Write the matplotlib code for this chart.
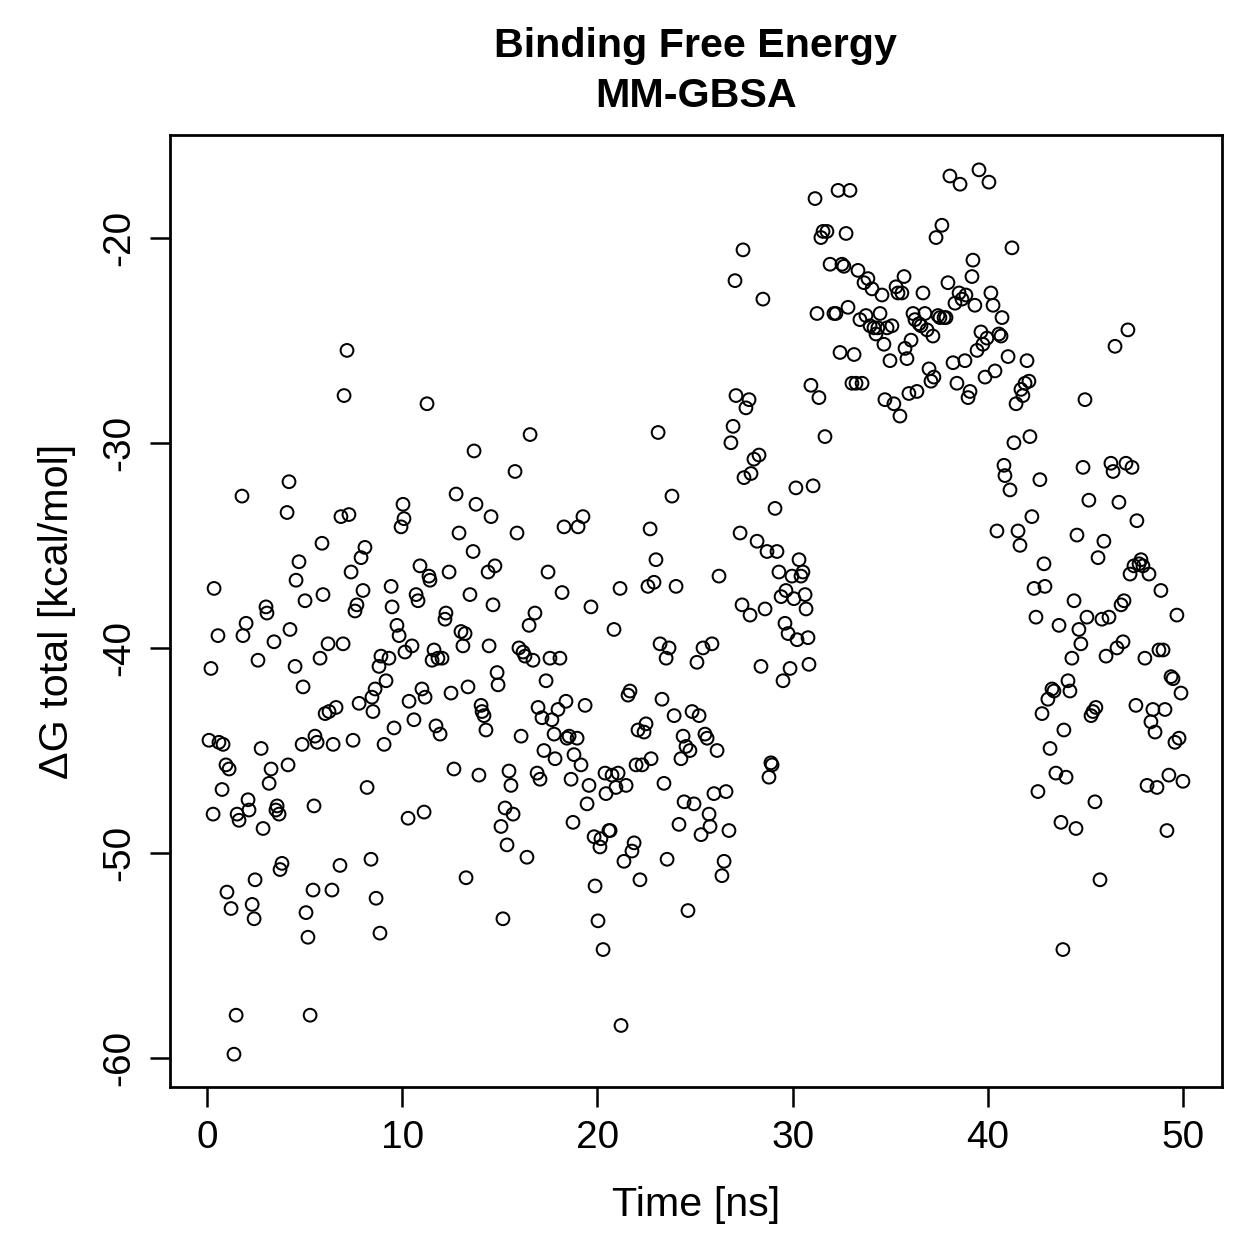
import matplotlib
matplotlib.use("Agg")
import matplotlib.pyplot as plt
from matplotlib import font_manager
import numpy as np

# MM-GBSA binding free energy per frame
time_ns = [
    0.10, 0.20, 0.36, 0.56, 0.31, 0.61, 0.82, 0.77, 0.97, 1.13, 1.02, 1.23, 1.49, 1.38, 1.54, 1.64,
    1.79, 1.84, 2.00, 2.10, 2.15, 2.31, 2.41, 2.46, 2.61, 2.77, 2.87, 3.02, 3.07, 3.18, 3.28, 3.43,
    3.53, 3.59, 3.69, 3.74, 3.84, 4.10, 4.15, 4.20, 4.25, 4.51, 4.56, 4.71, 4.87, 4.92, 5.02, 5.07,
    5.17, 5.28, 5.43, 5.48, 5.53, 5.64, 5.79, 5.89, 5.94, 6.05, 6.20, 6.25, 6.40, 6.46, 6.61, 6.81,
    6.86, 6.97, 7.02, 7.17, 7.27, 7.38, 7.48, 7.58, 7.68, 7.79, 7.89, 7.99, 8.09, 8.20, 8.40, 8.45,
    8.50, 8.61, 8.66, 8.81, 8.86, 8.91, 9.07, 9.17, 9.32, 9.43, 9.48, 9.58, 9.73, 9.84, 9.94, 10.04,
    10.09, 10.14, 10.30, 10.35, 10.50, 10.60, 10.71, 10.81, 10.91, 11.01, 11.12, 11.17, 11.27, 11.37,
    11.42, 11.53, 11.63, 11.73, 11.83, 11.94, 12.04, 12.19, 12.24, 12.40, 12.50, 12.65, 12.76, 12.91,
    13.01, 13.11, 13.22, 13.27, 13.37, 13.47, 13.63, 13.68, 13.78, 13.93, 14.04, 14.09, 14.19, 14.29,
    14.40, 14.45, 14.55, 14.65, 14.75, 14.86, 14.91, 15.06, 15.16, 15.27, 15.37, 15.47, 15.57, 15.68,
    15.78, 15.88, 15.98, 16.09, 16.19, 16.29, 16.39, 16.50, 16.55, 16.70, 16.80, 16.91, 16.96, 17.06,
    17.16, 17.26, 17.37, 17.47, 17.57, 17.67, 17.78, 17.83, 17.98, 18.08, 18.19, 18.29, 18.39, 18.44,
    18.55, 18.65, 18.75, 18.80, 18.96, 19.01, 19.16, 19.26, 19.37, 19.47, 19.57, 19.67, 19.83, 19.88,
    20.03, 20.13, 20.18, 20.29, 20.39, 20.44, 20.59, 20.65, 20.75, 20.85, 20.95, 21.06, 21.16, 21.21,
    21.36, 21.47, 21.57, 21.67, 21.77, 21.88, 21.98, 22.08, 22.18, 22.29, 22.39, 22.49, 22.59, 22.70,
    22.75, 22.90, 23.00, 23.11, 23.21, 23.31, 23.41, 23.52, 23.57, 23.67, 23.82, 23.93, 24.03, 24.18,
    24.28, 24.39, 24.44, 24.54, 24.64, 24.74, 24.85, 24.95, 25.10, 25.21, 25.31, 25.41, 25.51, 25.62,
    25.72, 25.77, 25.87, 25.97, 26.13, 26.23, 26.38, 26.49, 26.59, 26.74, 26.84, 26.95, 27.05, 27.10,
    27.31, 27.41, 27.46, 27.51, 27.61, 27.77, 27.82, 27.87, 28.02, 28.18, 28.28, 28.38, 28.48, 28.59,
    28.69, 28.79, 28.89, 28.95, 29.10, 29.20, 29.30, 29.41, 29.51, 29.61, 29.66, 29.77, 29.87, 29.97,
    30.07, 30.17, 30.23, 30.33, 30.43, 30.53, 30.64, 30.69, 30.79, 30.84, 30.94, 31.05, 31.15, 31.25,
    31.35, 31.45, 31.56, 31.66, 31.76, 31.92, 32.12, 32.22, 32.33, 32.43, 32.53, 32.63, 32.74, 32.84,
    32.94, 33.04, 33.15, 33.25, 33.35, 33.45, 33.56, 33.66, 33.76, 33.86, 33.97, 34.07, 34.17, 34.27,
    34.37, 34.48, 34.58, 34.68, 34.73, 34.84, 34.99, 35.09, 35.19, 35.30, 35.40, 35.50, 35.60, 35.71,
    35.76, 35.86, 35.96, 36.07, 36.17, 36.27, 36.37, 36.48, 36.58, 36.68, 36.78, 36.89, 36.99, 37.09,
    37.19, 37.24, 37.35, 37.45, 37.55, 37.65, 37.76, 37.86, 37.96, 38.06, 38.22, 38.32, 38.42, 38.53,
    38.58, 38.68, 38.83, 38.88, 38.99, 39.09, 39.19, 39.24, 39.34, 39.45, 39.55, 39.65, 39.75, 39.86,
    39.96, 40.06, 40.16, 40.27, 40.37, 40.47, 40.57, 40.68, 40.73, 40.83, 40.88, 41.04, 41.14, 41.24,
    41.34, 41.45, 41.55, 41.65, 41.70, 41.80, 41.91, 42.01, 42.11, 42.16, 42.26, 42.37, 42.47, 42.57,
    42.67, 42.78, 42.88, 42.93, 43.08, 43.19, 43.29, 43.39, 43.49, 43.65, 43.75, 43.85, 43.90, 44.01,
    44.11, 44.21, 44.31, 44.42, 44.52, 44.57, 44.67, 44.77, 44.88, 44.98, 45.08, 45.18, 45.29, 45.39,
    45.49, 45.54, 45.65, 45.75, 45.85, 45.95, 46.06, 46.21, 46.31, 46.42, 46.52, 46.62, 46.72, 46.83,
    46.93, 46.98, 47.08, 47.18, 47.29, 47.39, 47.49, 47.59, 47.64, 47.75, 47.85, 47.95, 48.05, 48.16,
    48.26, 48.36, 48.46, 48.57, 48.67, 48.77, 48.87, 48.98, 49.08, 49.18, 49.28, 49.39, 49.49, 49.59,
    49.69, 49.80, 49.90, 50.00,
]
dg_total = [
    -44.5, -41.0, -37.1, -39.4, -48.1, -44.6, -44.7, -46.9, -45.7, -45.9, -51.9, -52.7, -57.9, -59.8, -48.1, -48.4,
    -32.6, -39.4, -38.8, -47.4, -47.9, -52.5, -53.2, -51.3, -40.6, -44.9, -48.8, -38.0, -38.3, -46.6, -45.9, -39.7,
    -47.9, -47.7, -48.1, -50.8, -50.5, -33.4, -45.7, -31.9, -39.1, -40.9, -36.7, -35.8, -44.7, -41.9, -37.7, -52.9,
    -54.1, -57.9, -51.8, -47.7, -44.3, -44.6, -40.5, -34.9, -37.4, -43.2, -39.8, -43.1, -51.8, -44.7, -42.9, -50.6,
    -33.6, -39.8, -27.7, -25.5, -33.5, -36.3, -44.5, -38.2, -37.9, -42.7, -35.6, -37.2, -35.1, -46.8, -50.3, -42.4,
    -43.1, -42.0, -52.2, -40.9, -53.9, -40.4, -44.7, -41.6, -40.5, -37.0, -38.0, -43.9, -38.9, -39.4, -34.1, -33.0,
    -33.7, -40.2, -48.3, -42.6, -39.9, -43.5, -37.4, -37.7, -36.0, -42.0, -48.0, -42.4, -28.1, -36.5,
    -36.7, -40.6, -40.1, -43.8, -40.5, -44.2, -40.5, -38.6, -38.3, -36.3, -42.2, -45.9, -32.5, -34.4,
    -39.2, -39.9, -39.3, -51.2, -41.9, -37.4, -35.3, -30.4, -33.0, -46.2, -42.8, -43.1, -43.3, -44.0,
    -36.3, -39.9, -33.6, -37.9, -36.0, -41.2, -41.8, -48.7, -53.2, -47.8, -49.6, -46.0, -46.7, -48.1,
    -31.4, -34.4, -40.0, -44.3, -40.2, -40.4, -50.2, -38.9, -29.6, -40.6, -38.3, -46.1, -42.9, -46.4,
    -43.4, -45.0, -41.6, -36.3, -40.5, -43.5, -44.2, -45.4, -43.0, -40.5, -37.3, -34.1, -42.6, -44.4,
    -44.3, -46.4, -48.5, -45.2, -44.4, -34.1, -45.7, -33.6, -42.8, -47.6, -46.7, -38.0, -49.2, -51.6,
    -53.3, -49.7, -49.3, -54.7, -46.1, -47.1, -48.9, -48.9, -46.2, -39.1, -46.8, -46.1, -37.1, -58.4,
    -50.4, -46.7, -42.3, -42.1, -49.9, -49.5, -45.7, -44.0, -51.3, -45.7, -44.1, -43.7, -37.0, -34.2,
    -45.4, -36.8, -35.7, -29.5, -39.8, -42.5, -46.6, -40.5, -50.3, -40.0, -32.6, -43.3, -37.0, -48.6,
    -45.4, -44.3, -47.5, -44.8, -52.8, -45.0, -43.1, -47.6, -40.7, -43.3, -49.1, -40.0, -44.2, -44.4,
    -48.1, -48.7, -39.8, -47.1, -45.0, -36.5, -51.1, -50.4, -47.0, -48.9, -30.0, -29.2, -22.1, -27.7,
    -34.4, -37.9, -20.6, -31.7, -28.3, -27.9, -38.4, -31.5, -30.8, -34.8, -30.6, -40.9, -23.0, -38.1,
    -35.3, -46.3, -45.6, -45.7, -33.2, -35.3, -36.3, -37.5, -41.6, -38.8, -37.2, -39.3, -41.0, -36.5,
    -37.6, -32.2, -39.6, -35.7, -36.5, -36.3, -37.4, -38.1, -39.5, -40.8, -27.2, -32.1, -18.1, -23.7,
    -27.8, -20.0, -19.7, -29.7, -19.7, -21.3, -23.7, -23.7, -17.7, -25.6, -21.3, -21.4, -19.8, -23.4,
    -17.7, -27.1, -25.7, -27.1, -21.6, -24.0, -27.1, -22.2, -23.8, -22.0, -24.3, -22.5, -24.4, -24.7,
    -24.4, -23.7, -22.8, -25.2, -27.9, -24.4, -26.0, -24.3, -28.1, -22.4, -22.7, -28.7, -22.7, -21.9,
    -25.4, -25.9, -27.6, -25.0, -23.7, -24.0, -27.5, -24.2, -24.3, -22.7, -23.7, -24.5, -26.4, -27.0,
    -24.8, -26.8, -20.0, -23.8, -23.9, -19.4, -23.9, -23.9, -22.2, -17.0, -26.1, -23.2, -27.1, -22.7,
    -17.4, -23.0, -26.0, -22.8, -27.8, -27.5, -21.9, -21.1, -23.3, -25.5, -16.7, -24.6, -25.2, -26.8,
    -24.9, -17.3, -22.7, -23.3, -26.5, -34.3, -24.7, -24.8, -23.9, -31.1, -31.6, -25.8, -32.3, -20.5,
    -30.0, -28.1, -34.3, -35.0, -27.4, -27.7, -27.1, -26.0, -27.0, -29.7, -33.6, -37.1, -38.5, -47.0,
    -31.8, -43.2, -35.9, -37.0, -42.5, -44.9, -42.0, -42.1, -46.1, -38.9, -48.5, -54.7, -44.0, -46.3,
    -41.6, -42.1, -40.5, -37.7, -48.8, -34.5, -39.1, -39.8, -31.2, -27.9, -38.5, -32.8, -43.3, -43.1,
    -47.5, -42.9, -35.6, -51.3, -38.6, -34.8, -40.4, -38.5, -31.0, -31.4, -25.3, -40.0, -32.9, -37.9,
    -39.7, -37.7, -31.0, -24.5, -36.4, -31.2, -36.0, -42.8, -33.8, -35.9, -35.7, -36.0, -40.5, -46.7,
    -36.4, -43.6, -43.0, -44.1, -46.8, -40.1, -37.2, -40.1, -43.0, -48.9, -46.2, -41.4, -41.5, -44.6,
    -38.4, -44.4, -42.2, -46.5,
]
x_ticks = [0, 10, 20, 30, 40, 50]
y_ticks = [-60, -50, -40, -30, -20]
y_tick_labels = ['-60', '-50', '-40', '-30', '-20']

# the reference text is a narrow Helvetica; use the narrow Liberation face if present
installed = {f.name for f in font_manager.fontManager.ttflist}
if 'Liberation Sans Narrow' in installed:
    family = ['Liberation Sans Narrow', 'DejaVu Sans']
    fs_tick, fs_lab, fs_title = 19, 19.5, 19.5
else:
    family = ['Liberation Sans', 'DejaVu Sans']
    fs_tick, fs_lab, fs_title = 15.5, 16.5, 16.5
plt.rcParams['font.family'] = family

fig = plt.figure(figsize=(1259 / 180, 1259 / 180), dpi=180)
ax = fig.add_axes([0.135, 0.1366, 0.8356, 0.7562])

ax.scatter(time_ns, dg_total, s=26, facecolors='none', edgecolors='black', linewidths=0.8)

ax.set_xlim(-1.9, 52.0)
ax.set_ylim(-61.4, -15.0)
ax.set_xticks(x_ticks)
ax.set_yticks(y_ticks)
ax.set_yticklabels(y_tick_labels, rotation=90, va='center')
ax.tick_params(direction='out', length=8, width=1.0, labelsize=fs_tick, pad=5)
for sp in ax.spines.values():
    sp.set_linewidth(1.1)

ax.set_xlabel('Time [ns]', fontsize=fs_lab, labelpad=12)
ax.set_ylabel('\u0394G total [kcal/mol]', fontsize=fs_lab, labelpad=10)
ax.set_title('Binding Free Energy\nMM-GBSA', fontsize=fs_title, fontweight='bold', pad=11, linespacing=1.4)

fig.savefig('out.png', dpi=180)
